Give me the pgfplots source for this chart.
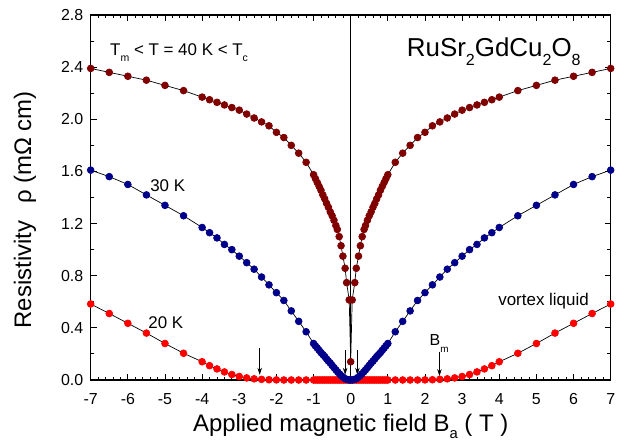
\documentclass[border=0pt]{standalone}
\usepackage{fontspec}
\setmainfont{Liberation Sans}
\usepackage{pgfplots}
\pgfplotsset{compat=1.18}
\usetikzlibrary{arrows.meta}
\definecolor{c40}{RGB}{128,0,0}
\definecolor{c30}{RGB}{0,0,139}
\definecolor{c20}{RGB}{255,0,0}
\newcommand{\sub}[1]{\raisebox{-0.38em}{\scalebox{0.62}{#1}}}
\newcommand{\lowsub}[1]{\raisebox{-0.30em}{\scalebox{0.62}{#1}}}

\begin{document}
\begin{tikzpicture}
\path[use as bounding box] (-90.7bp,-63bp) rectangle (542.3bp,380bp);
\begin{axis}[
  at={(0,0)}, anchor=south west,
  scale only axis, width=520bp, height=365bp,
  xmin=-7, xmax=7, ymin=0, ymax=2.8,
  xtick={-7,-6,-5,-4,-3,-2,-1,0,1,2,3,4,5,6,7},
  ytick={0,0.4,0.8,1.2,1.6,2.0,2.4,2.8},
  minor x tick num=4, minor y tick num=1,
  tick align=inside,
  major tick length=6bp, minor tick length=3.5bp,
  axis line style={line width=1.1bp},
  every tick/.style={black, line width=0.9bp},
  ticklabel style={font=\fontsize{16}{18}\selectfont},
  /pgf/number format/assume math mode=true,
  x tick label style={yshift=-10bp},
  y tick label style={xshift=-4bp, /pgf/number format/.cd, fixed, fixed zerofill, precision=1},
  xlabel={Applied magnetic field B\lowsub{a} ( T )},
  ylabel={Resistivity\hspace{0.7em}ρ (mΩ cm)},
  label style={font=\fontsize{24}{27}\selectfont},
  xlabel style={at={(axis description cs:0.5,-0.128)}, anchor=center},
  ylabel style={at={(axis description cs:-0.1263,0.466)}, anchor=center},
  every axis plot/.append style={black, line width=0.7bp, mark=*, mark size=3.4bp},
]
% 20 K
\addplot[mark options={draw=c20, fill=c20}] coordinates {
(-7,0.583) (-6.5,0.51) (-6,0.435) (-5.5,0.36) (-5,0.28) (-4.5,0.205) (-4,0.14)
(-3.8,0.11) (-3.6,0.085) (-3.4,0.062) (-3.2,0.042) (-3.0,0.027) (-2.8,0.016)
(-2.6,0.009) (-2.4,0.005) (-2.2,0.002) (-2.0,0.001) (-1.8,0) (-1.6,0) (-1.4,0) (-1.2,0)
(-1.0,0) (-0.95,0) (-0.9,0) (-0.85,0) (-0.8,0) (-0.75,0) (-0.7,0) (-0.65,0) (-0.6,0)
(-0.55,0) (-0.5,0) (-0.45,0) (-0.4,0) (-0.35,0) (-0.3,0) (-0.25,0) (-0.2,0) (-0.15,0)
(-0.1,0) (-0.05,0) (0,0) (0.05,0) (0.1,0) (0.15,0) (0.2,0) (0.25,0) (0.3,0) (0.35,0)
(0.4,0) (0.45,0) (0.5,0) (0.55,0) (0.6,0) (0.65,0) (0.7,0) (0.75,0) (0.8,0) (0.85,0)
(0.9,0) (0.95,0) (1.0,0)
(1.2,0) (1.4,0) (1.6,0) (1.8,0) (2.0,0.001) (2.2,0.002) (2.4,0.005) (2.6,0.009)
(2.8,0.016) (3.0,0.027) (3.2,0.042) (3.4,0.062) (3.6,0.085) (3.8,0.11) (4,0.14)
(4.5,0.205) (5,0.28) (5.5,0.36) (6,0.435) (6.5,0.51) (7,0.583)
};
% 30 K
\addplot[mark options={draw=c30, fill=c30}] coordinates {
(-7,1.61) (-6.5,1.56) (-6,1.50) (-5.5,1.42) (-5,1.34) (-4.5,1.26) (-4,1.17)
(-3.8,1.13) (-3.6,1.09) (-3.4,1.04) (-3.2,1.00) (-3.0,0.95) (-2.8,0.90) (-2.6,0.85)
(-2.4,0.79) (-2.2,0.73) (-2.0,0.67) (-1.8,0.61) (-1.6,0.53) (-1.4,0.45) (-1.2,0.37)
(-1.0,0.28) (-0.95,0.262) (-0.9,0.245) (-0.85,0.228) (-0.8,0.21) (-0.75,0.195)
(-0.7,0.18) (-0.65,0.162) (-0.6,0.145) (-0.55,0.13) (-0.5,0.112) (-0.45,0.095)
(-0.4,0.078) (-0.35,0.062) (-0.3,0.046) (-0.25,0.032) (-0.2,0.02) (-0.15,0.01)
(-0.1,0.004) (-0.05,0.001) (0,0)
(0.05,0.001) (0.1,0.004) (0.15,0.01) (0.2,0.02) (0.25,0.032) (0.3,0.046)
(0.35,0.062) (0.4,0.078) (0.45,0.095) (0.5,0.112) (0.55,0.13) (0.6,0.145)
(0.65,0.162) (0.7,0.18) (0.75,0.195) (0.8,0.21) (0.85,0.228) (0.9,0.245)
(0.95,0.262) (1.0,0.28)
(1.2,0.37) (1.4,0.45) (1.6,0.53) (1.8,0.61) (2.0,0.67) (2.2,0.73) (2.4,0.79)
(2.6,0.85) (2.8,0.90) (3.0,0.95) (3.2,1.00) (3.4,1.04) (3.6,1.09) (3.8,1.13)
(4,1.17) (4.5,1.26) (5,1.34) (5.5,1.42) (6,1.50) (6.5,1.56) (7,1.61)
};
% 40 K
\addplot[mark options={draw=c40, fill=c40}] coordinates {
(-7,2.39) (-6.5,2.36) (-6,2.33) (-5.5,2.30) (-5,2.26) (-4.5,2.22) (-4,2.17)
(-3.8,2.15) (-3.6,2.13) (-3.4,2.11) (-3.2,2.09) (-3.0,2.07) (-2.8,2.04) (-2.6,2.01)
(-2.4,1.98) (-2.2,1.95) (-2.0,1.90) (-1.8,1.86) (-1.6,1.80) (-1.4,1.74) (-1.2,1.67)
(-1.0,1.575) (-0.95,1.545) (-0.9,1.515) (-0.85,1.485) (-0.8,1.455) (-0.75,1.42)
(-0.7,1.39) (-0.65,1.355) (-0.6,1.325) (-0.55,1.29) (-0.5,1.26) (-0.45,1.225)
(-0.4,1.185) (-0.36,1.155) (-0.31,1.10) (-0.26,1.03) (-0.21,0.95) (-0.15,0.857)
(-0.11,0.747) (-0.04,0.614) (0,0.14)
(0.04,0.614) (0.11,0.747) (0.15,0.857) (0.21,0.95) (0.26,1.03) (0.31,1.10)
(0.36,1.155) (0.4,1.185) (0.45,1.225) (0.5,1.26) (0.55,1.29) (0.6,1.325)
(0.65,1.355) (0.7,1.39) (0.75,1.42) (0.8,1.455) (0.85,1.485) (0.9,1.515)
(0.95,1.545) (1.0,1.575)
(1.2,1.67) (1.4,1.74) (1.6,1.80) (1.8,1.86) (2.0,1.90) (2.2,1.95) (2.4,1.98)
(2.6,2.01) (2.8,2.04) (3.0,2.07) (3.2,2.09) (3.4,2.11) (3.6,2.13) (3.8,2.15)
(4,2.17) (4.5,2.22) (5,2.26) (5.5,2.30) (6,2.33) (6.5,2.36) (7,2.39)
};
% zero-field line
\addplot[no marks, line width=1.2bp] coordinates {(0,0) (0,2.8)};

% melting-field arrows
\draw[-{Stealth[length=7bp,width=4.5bp]}, line width=0.7bp] (axis cs:-2.45,0.245) -- (axis cs:-2.45,0.04);
\draw[-{Stealth[length=7bp,width=4.5bp]}, line width=0.7bp] (axis cs:2.39,0.217) -- (axis cs:2.39,0.03);
\draw[-{Stealth[length=7bp,width=4.5bp]}, line width=0.7bp] (axis cs:-0.15,0.23) -- (axis cs:-0.15,0.04);
\draw[-{Stealth[length=7bp,width=4.5bp]}, line width=0.7bp] (axis cs:0.18,0.23) -- (axis cs:0.18,0.04);

% annotations
\node[anchor=base west, font=\fontsize{17}{19}\selectfont, inner sep=0pt]
  at (axis cs:-6.48,2.493) {T\sub{m} < T = 40 K < T\sub{c}};
\node[anchor=base west, font=\fontsize{26}{28}\selectfont, inner sep=0pt]
  at (axis cs:1.51,2.485) {RuSr\sub{2}GdCu\sub{2}O\sub{8}};
\node[anchor=base west, font=\fontsize{17}{19}\selectfont, inner sep=0pt]
  at (axis cs:-5.40,1.445) {30 K};
\node[anchor=base west, font=\fontsize{17}{19}\selectfont, inner sep=0pt]
  at (axis cs:-5.45,0.397) {20 K};
\node[anchor=base west, font=\fontsize{17}{19}\selectfont, inner sep=0pt]
  at (axis cs:3.97,0.57) {vortex liquid};
\node[anchor=base west, font=\fontsize{16}{18}\selectfont, inner sep=0pt]
  at (axis cs:2.12,0.261) {B\sub{m}};
\end{axis}
\end{tikzpicture}
\end{document}
